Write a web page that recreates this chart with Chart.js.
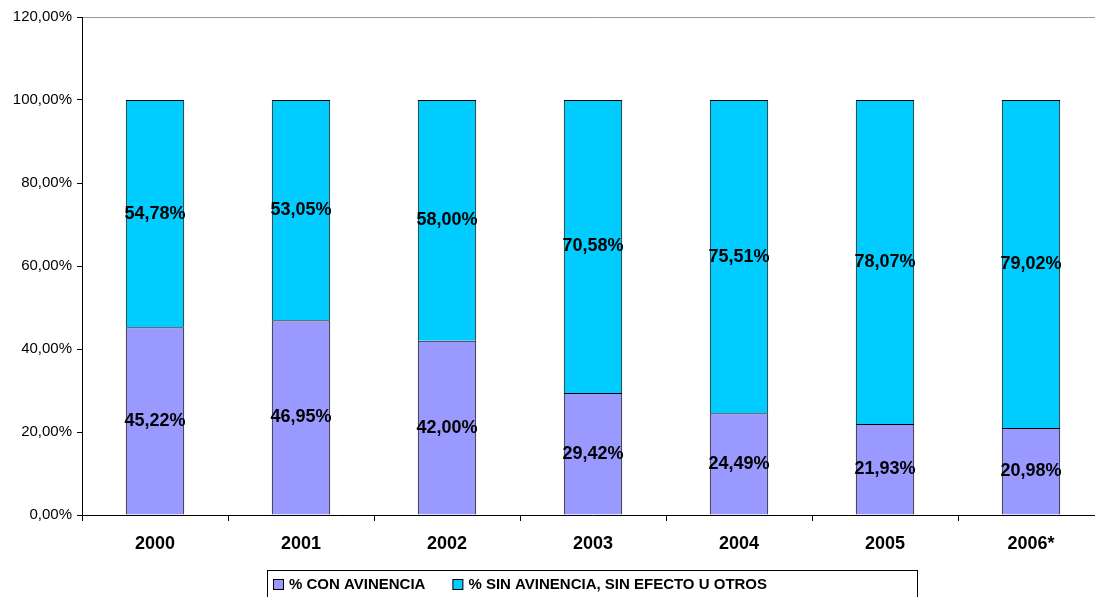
<!DOCTYPE html>
<html>
<head>
<meta charset="utf-8">
<script src="https://cdn.jsdelivr.net/npm/chart.js@4/dist/chart.umd.min.js"></script>
<style>
  html, body { margin: 0; padding: 0; background: #fff; overflow: hidden; }
  #wrap { width: 1095px; height: 597px; overflow: hidden; }
</style>
</head>
<body>
<div id="wrap"><canvas id="chart" width="1110" height="597"></canvas></div>
<script>
    "use strict";

    const years = ["2000", "2001", "2002", "2003", "2004", "2005", "2006*"];
    const conAvenencia = [45.22, 46.95, 42.0, 29.42, 24.49, 21.93, 20.98];
    const sinAvenencia = [54.78, 53.05, 58.0, 70.58, 75.51, 78.07, 79.02];
    const yTicks = [0, 20, 40, 60, 80, 100, 120];

    const fmt = (v) => v.toFixed(2).replace(".", ",") + "%";
    const FONT = "'Liberation Sans', Arial, sans-serif";

    // value labels in the middle of each segment
    const segmentLabels = {
        id: "segmentLabels",
        afterDatasetsDraw(chart) {
            const ctx = chart.ctx;
            ctx.save();
            ctx.font = "bold 18px " + FONT;
            ctx.fillStyle = "#000";
            ctx.textAlign = "center";
            ctx.textBaseline = "middle";
            chart.data.datasets.forEach((ds, i) => {
                chart.getDatasetMeta(i).data.forEach((bar, j) => {
                    ctx.fillText(fmt(ds.data[j]), bar.x, (bar.y + bar.base) / 2);
                });
            });
            ctx.restore();
        },
    };

    // boxed legend under the axis
    const boxLegend = {
        id: "boxLegend",
        afterDraw(chart) {
            const ctx = chart.ctx;
            const left = 267, top = 570;
            ctx.save();
            ctx.strokeStyle = "#000";
            ctx.lineWidth = 1;
            ctx.strokeRect(left + 0.5, top + 0.5, 650, 40);
            ctx.font = "bold 15px " + FONT;
            ctx.textBaseline = "middle";
            ctx.fillStyle = "#000";
            let x = left + 6;
            const cy = top + 15;
            chart.data.datasets.forEach((ds) => {
                ctx.fillStyle = ds.backgroundColor;
                ctx.fillRect(x + 0.5, cy - 5.5, 10, 10);
                ctx.strokeStyle = "#000";
                ctx.strokeRect(x + 0.5, cy - 5.5, 10, 10);
                ctx.fillStyle = "#000";
                ctx.fillText(ds.label, x + 16, cy);
                x += 16 + ctx.measureText(ds.label).width + 27;
            });
            ctx.restore();
        },
    };

    new Chart(document.getElementById("chart"), {
        type: "bar",
        data: {
            labels: years,
            datasets: [
                {
                    label: "% CON AVINENCIA",
                    data: conAvenencia,
                    backgroundColor: "#9999FF",
                    borderColor: "#000",
                    borderWidth: 1,
                    barPercentage: 0.4,
                    categoryPercentage: 1,
                },
                {
                    label: "% SIN AVINENCIA, SIN EFECTO U OTROS",
                    data: sinAvenencia,
                    backgroundColor: "#00CCFF",
                    borderColor: "#000",
                    borderWidth: 1,
                    barPercentage: 0.4,
                    categoryPercentage: 1,
                },
            ],
        },
        options: {
            responsive: false,
            animation: false,
            devicePixelRatio: 1,
            layout: {
                padding: { top: 17, right: 6, bottom: 42, left: 0 },
            },
            plugins: {
                legend: { display: false },
                tooltip: { enabled: false },
            },
            scales: {
                x: {
                    stacked: true,
                    grid: {
                        offset: true,
                        drawOnChartArea: false,
                        tickColor: "#000",
                        tickLength: 6,
                    },
                    border: { display: true, color: "#000", width: 1 },
                    ticks: {
                        color: "#000",
                        padding: 12,
                        font: { family: FONT, size: 18, weight: "bold" },
                    },
                    afterFit: (scale) => {
                        scale.height = 40;
                    },
                },
                y: {
                    stacked: true,
                    min: yTicks[0],
                    max: yTicks[yTicks.length - 1],
                    afterBuildTicks: (scale) => {
                        scale.ticks = yTicks.map((v) => ({ value: v }));
                    },
                    grid: {
                        color: (c) =>
                            c.tick && c.tick.value === 120 ? "#999999" : "rgba(0,0,0,0)",
                        tickColor: "#000",
                        tickLength: 5,
                    },
                    border: { display: true, color: "#000", width: 1 },
                    ticks: {
                        color: "#000",
                        padding: 5,
                        font: { family: FONT, size: 15 },
                        callback: (v) => fmt(v),
                    },
                    afterFit: (scale) => {
                        scale.width = 82;
                    },
                },
            },
        },
        plugins: [segmentLabels, boxLegend],
    });
</script>
</body>
</html>
